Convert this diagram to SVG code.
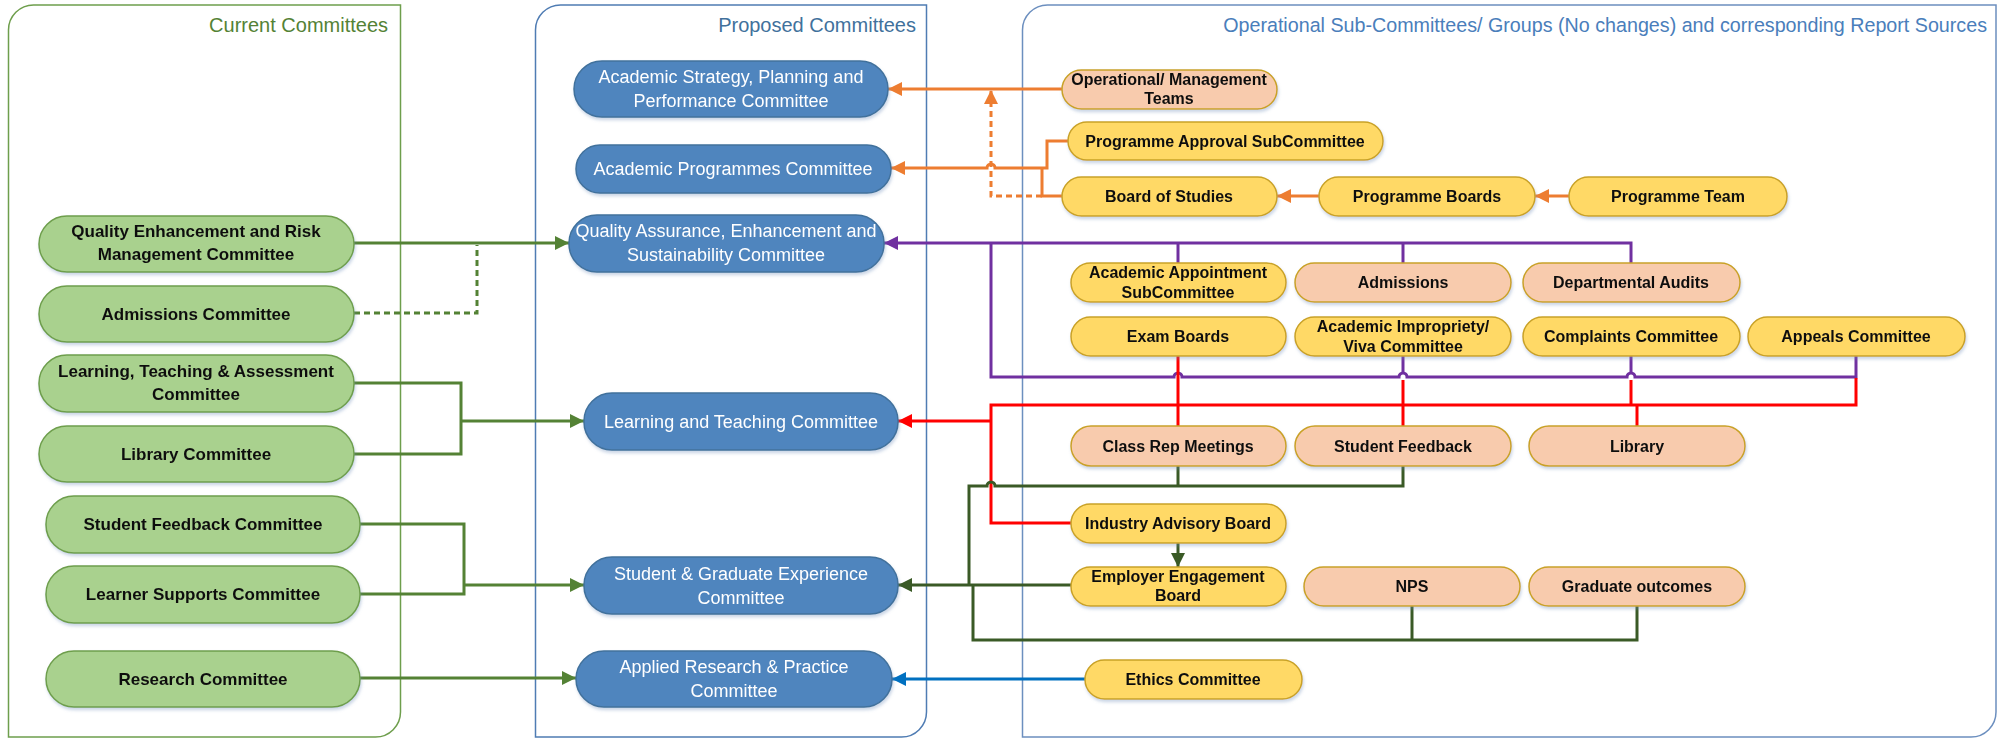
<svg xmlns="http://www.w3.org/2000/svg" width="1998" height="738" viewBox="0 0 1998 738">
<defs>
<style>
.ttl{font-family:"Liberation Sans",Arial,sans-serif;font-size:20px}
.ttl2{font-family:"Liberation Sans",Arial,sans-serif;font-size:19.7px}
.gn rect{fill:#A9D18E;stroke:#6E9E4C;stroke-width:1.5}
.bn rect{fill:#5085BE;stroke:#41719C;stroke-width:1.5}
.yn rect{fill:#FFD966;stroke:#C9A227;stroke-width:1.5}
.pn rect{fill:#F8CBAD;stroke:#C9A227;stroke-width:1.5}
.gn text{font-family:"Liberation Sans",Arial,sans-serif;font-size:17px;font-weight:bold;fill:#111;text-anchor:middle}
.bn text{font-family:"Liberation Sans",Arial,sans-serif;font-size:18px;fill:#fff;text-anchor:middle}
.yn text,.pn text{font-family:"Liberation Sans",Arial,sans-serif;font-size:16px;font-weight:bold;fill:#111;text-anchor:middle}
.node{filter:url(#sh)}
.c{fill:none;stroke-width:3}
.og{stroke:#548235}.or{stroke:#ED7D31}.pu{stroke:#7030A0}.rd{stroke:#FF0000}.dg{stroke:#3A5A26}.bl{stroke:#0070C0}
.dash{stroke-dasharray:6 4}
</style>
<filter id="sh" x="-10%" y="-20%" width="120%" height="150%">
<feDropShadow dx="1" dy="2.5" stdDeviation="1.5" flood-color="#6A8CB8" flood-opacity="0.35"/>
</filter>
<marker id="aog" viewBox="0 0 14 14" refX="14" refY="7" markerWidth="14" markerHeight="14" markerUnits="userSpaceOnUse" orient="auto"><path d="M0,0 L14,7 L0,14 z" fill="#548235"/></marker>
<marker id="aor" viewBox="0 0 14 14" refX="14" refY="7" markerWidth="14" markerHeight="14" markerUnits="userSpaceOnUse" orient="auto"><path d="M0,0 L14,7 L0,14 z" fill="#ED7D31"/></marker>
<marker id="apu" viewBox="0 0 14 14" refX="14" refY="7" markerWidth="14" markerHeight="14" markerUnits="userSpaceOnUse" orient="auto"><path d="M0,0 L14,7 L0,14 z" fill="#7030A0"/></marker>
<marker id="ard" viewBox="0 0 14 14" refX="14" refY="7" markerWidth="14" markerHeight="14" markerUnits="userSpaceOnUse" orient="auto"><path d="M0,0 L14,7 L0,14 z" fill="#FF0000"/></marker>
<marker id="adg" viewBox="0 0 14 14" refX="14" refY="7" markerWidth="14" markerHeight="14" markerUnits="userSpaceOnUse" orient="auto"><path d="M0,0 L14,7 L0,14 z" fill="#3A5A26"/></marker>
<marker id="abl" viewBox="0 0 14 14" refX="14" refY="7" markerWidth="14" markerHeight="14" markerUnits="userSpaceOnUse" orient="auto"><path d="M0,0 L14,7 L0,14 z" fill="#0070C0"/></marker>
</defs>
<rect width="1998" height="738" fill="#fff"/>

<g id="panel-current">
<path d="M8.5,30 A25,25 0 0 1 33.5,5 H400.5 V712 A25,25 0 0 1 375.5,737 H8.5 Z" fill="none" stroke="#6E9E4C" stroke-width="1.5"/>
<text class="ttl" x="388" y="32" text-anchor="end" fill="#548235">Current Committees</text>
</g>
<g id="panel-proposed">
<path d="M535.5,30 A25,25 0 0 1 560.5,5 H926.5 V712 A25,25 0 0 1 901.5,737 H535.5 Z" fill="none" stroke="#4F7CB3" stroke-width="1.5"/>
<text class="ttl" x="916" y="32" text-anchor="end" fill="#41719C">Proposed Committees</text>
</g>
<g id="panel-operational">
<path d="M1022.5,30 A25,25 0 0 1 1047.5,5 H1996 V712 A25,25 0 0 1 1971,737 H1022.5 Z" fill="none" stroke="#6C8FBF" stroke-width="1.5"/>
<text class="ttl2" x="1987" y="32" text-anchor="end" fill="#4A7EBB">Operational Sub-Committees/ Groups (No changes) and corresponding Report Sources</text>
</g>

<g id="connectors">
<path class="c og" d="M354,243 H569" marker-end="url(#aog)"/>
<path class="c og dash" d="M354,313 H477 V245"/>
<path class="c og" d="M354,383 H461 V454 H354"/>
<path class="c og" d="M461,421 H584" marker-end="url(#aog)"/>
<path class="c og" d="M360,524 H464 V594 H360"/>
<path class="c og" d="M464,585 H584" marker-end="url(#aog)"/>
<path class="c og" d="M360,678 H576" marker-end="url(#aog)"/>
<path class="c or" d="M1062,89 H888" marker-end="url(#aor)"/>
<path class="c or" d="M1068,141 H1047 V168 H995 A4,4 0 0 0 987,168 H891" marker-end="url(#aor)"/>
<path class="c or" d="M1062,196 H1042 V168"/>
<path class="c or dash" d="M1042,196 H991 V90" marker-end="url(#aor)"/>
<path class="c or" d="M1319,196 H1277" marker-end="url(#aor)"/>
<path class="c or" d="M1569,196 H1535" marker-end="url(#aor)"/>
<path class="c pu" d="M1631,263 V243 H884" marker-end="url(#apu)"/>
<path class="c pu" d="M1178,243 V263"/>
<path class="c pu" d="M1403,243 V263"/>
<path class="c pu" d="M991,243 V377 H1174 A4,4 0 0 1 1182,377 H1399 A4,4 0 0 1 1407,377 H1627 A4,4 0 0 1 1635,377 H1856 V356"/>
<path class="c pu" d="M1403,356 V373"/>
<path class="c pu" d="M1631,356 V373"/>
<path class="c rd" d="M1178,356 V426"/>
<path class="c rd" d="M1403,380 V426"/>
<path class="c rd" d="M1631,380 V405"/>
<path class="c rd" d="M1637,405 V426"/>
<path class="c rd" d="M1856,378 V405 H991 V523 H1071"/>
<path class="c rd" d="M991,421 H898" marker-end="url(#ard)"/>
<path class="c dg" d="M1178,466 V486"/>
<path class="c dg" d="M1403,466 V486 H995 A4,4 0 0 0 987,486 H969 V585"/>
<path class="c dg" d="M1071,585 H898" marker-end="url(#adg)"/>
<path class="c dg" d="M973,585 V640 H1637 V606"/>
<path class="c dg" d="M1412,606 V640"/>
<path class="c dg" d="M1178,543 V567" marker-end="url(#adg)"/>
<path class="c bl" d="M1085,679 H892" marker-end="url(#abl)"/>
</g>

<g id="n-qerm" class="node gn"><rect x="39" y="216" width="315" height="56" rx="28"/><text x="196" y="237">Quality Enhancement and Risk</text><text x="196" y="260">Management Committee</text></g>
<g id="n-admc" class="node gn"><rect x="39" y="286" width="315" height="56" rx="28"/><text x="196" y="320">Admissions Committee</text></g>
<g id="n-lta" class="node gn"><rect x="39" y="355" width="315" height="57" rx="28"/><text x="196" y="377">Learning, Teaching &amp; Assessment</text><text x="196" y="400">Committee</text></g>
<g id="n-libc" class="node gn"><rect x="39" y="426" width="315" height="56" rx="28"/><text x="196" y="460">Library Committee</text></g>
<g id="n-sfc" class="node gn"><rect x="46" y="496" width="314" height="57" rx="28"/><text x="203" y="530">Student Feedback Committee</text></g>
<g id="n-lsc" class="node gn"><rect x="46" y="566" width="314" height="57" rx="28"/><text x="203" y="600">Learner Supports Committee</text></g>
<g id="n-rc" class="node gn"><rect x="46" y="651" width="314" height="56" rx="28"/><text x="203" y="685">Research Committee</text></g>

<g id="n-aspp" class="node bn"><rect x="574" y="61" width="314" height="56" rx="28"/><text x="731" y="83">Academic Strategy, Planning and</text><text x="731" y="107">Performance Committee</text></g>
<g id="n-apc" class="node bn"><rect x="576" y="145" width="315" height="48" rx="24"/><text x="733" y="175">Academic Programmes Committee</text></g>
<g id="n-qaes" class="node bn"><rect x="569" y="215" width="315" height="57" rx="28"/><text x="726" y="237">Quality Assurance, Enhancement and</text><text x="726" y="261">Sustainability Committee</text></g>
<g id="n-ltc" class="node bn"><rect x="584" y="393" width="314" height="57" rx="28"/><text x="741" y="428">Learning and Teaching Committee</text></g>
<g id="n-sge" class="node bn"><rect x="584" y="557" width="314" height="57" rx="28"/><text x="741" y="580">Student &amp; Graduate Experience</text><text x="741" y="604">Committee</text></g>
<g id="n-arp" class="node bn"><rect x="576" y="651" width="316" height="56" rx="28"/><text x="734" y="673">Applied Research &amp; Practice</text><text x="734" y="697">Committee</text></g>

<g id="n-omt" class="node pn"><rect x="1062" y="70" width="215" height="39" rx="19.5"/><text x="1169" y="85">Operational/ Management</text><text x="1169" y="104">Teams</text></g>
<g id="n-pasc" class="node yn"><rect x="1068" y="122" width="315" height="38" rx="19"/><text x="1225" y="147">Programme Approval SubCommittee</text></g>
<g id="n-bos" class="node yn"><rect x="1062" y="177" width="215" height="39" rx="19.5"/><text x="1169" y="202">Board of Studies</text></g>
<g id="n-pb" class="node yn"><rect x="1319" y="177" width="216" height="39" rx="19.5"/><text x="1427" y="202">Programme Boards</text></g>
<g id="n-pt" class="node yn"><rect x="1569" y="177" width="218" height="39" rx="19.5"/><text x="1678" y="202">Programme Team</text></g>
<g id="n-aas" class="node yn"><rect x="1071" y="263" width="215" height="39" rx="19.5"/><text x="1178" y="278">Academic Appointment</text><text x="1178" y="298">SubCommittee</text></g>
<g id="n-adm" class="node pn"><rect x="1295" y="263" width="216" height="39" rx="19.5"/><text x="1403" y="288">Admissions</text></g>
<g id="n-da" class="node pn"><rect x="1523" y="263" width="217" height="39" rx="19.5"/><text x="1631" y="288">Departmental Audits</text></g>
<g id="n-eb" class="node yn"><rect x="1071" y="317" width="215" height="39" rx="19.5"/><text x="1178" y="342">Exam Boards</text></g>
<g id="n-aiv" class="node yn"><rect x="1295" y="317" width="216" height="39" rx="19.5"/><text x="1403" y="332">Academic Impropriety/</text><text x="1403" y="352">Viva Committee</text></g>
<g id="n-cc" class="node yn"><rect x="1523" y="317" width="217" height="39" rx="19.5"/><text x="1631" y="342">Complaints Committee</text></g>
<g id="n-ac" class="node yn"><rect x="1748" y="317" width="217" height="39" rx="19.5"/><text x="1856" y="342">Appeals Committee</text></g>
<g id="n-crm" class="node pn"><rect x="1071" y="426" width="215" height="40" rx="20"/><text x="1178" y="452">Class Rep Meetings</text></g>
<g id="n-sf" class="node pn"><rect x="1295" y="426" width="216" height="40" rx="20"/><text x="1403" y="452">Student Feedback</text></g>
<g id="n-lib" class="node pn"><rect x="1529" y="426" width="216" height="40" rx="20"/><text x="1637" y="452">Library</text></g>
<g id="n-iab" class="node yn"><rect x="1071" y="504" width="215" height="39" rx="19.5"/><text x="1178" y="529">Industry Advisory Board</text></g>
<g id="n-eeb" class="node yn"><rect x="1071" y="567" width="215" height="39" rx="19.5"/><text x="1178" y="582">Employer Engagement</text><text x="1178" y="601">Board</text></g>
<g id="n-nps" class="node pn"><rect x="1304" y="567" width="216" height="39" rx="19.5"/><text x="1412" y="592">NPS</text></g>
<g id="n-go" class="node pn"><rect x="1529" y="567" width="216" height="39" rx="19.5"/><text x="1637" y="592">Graduate outcomes</text></g>
<g id="n-eth" class="node yn"><rect x="1085" y="660" width="217" height="39" rx="19.5"/><text x="1193" y="685">Ethics Committee</text></g>
</svg>
